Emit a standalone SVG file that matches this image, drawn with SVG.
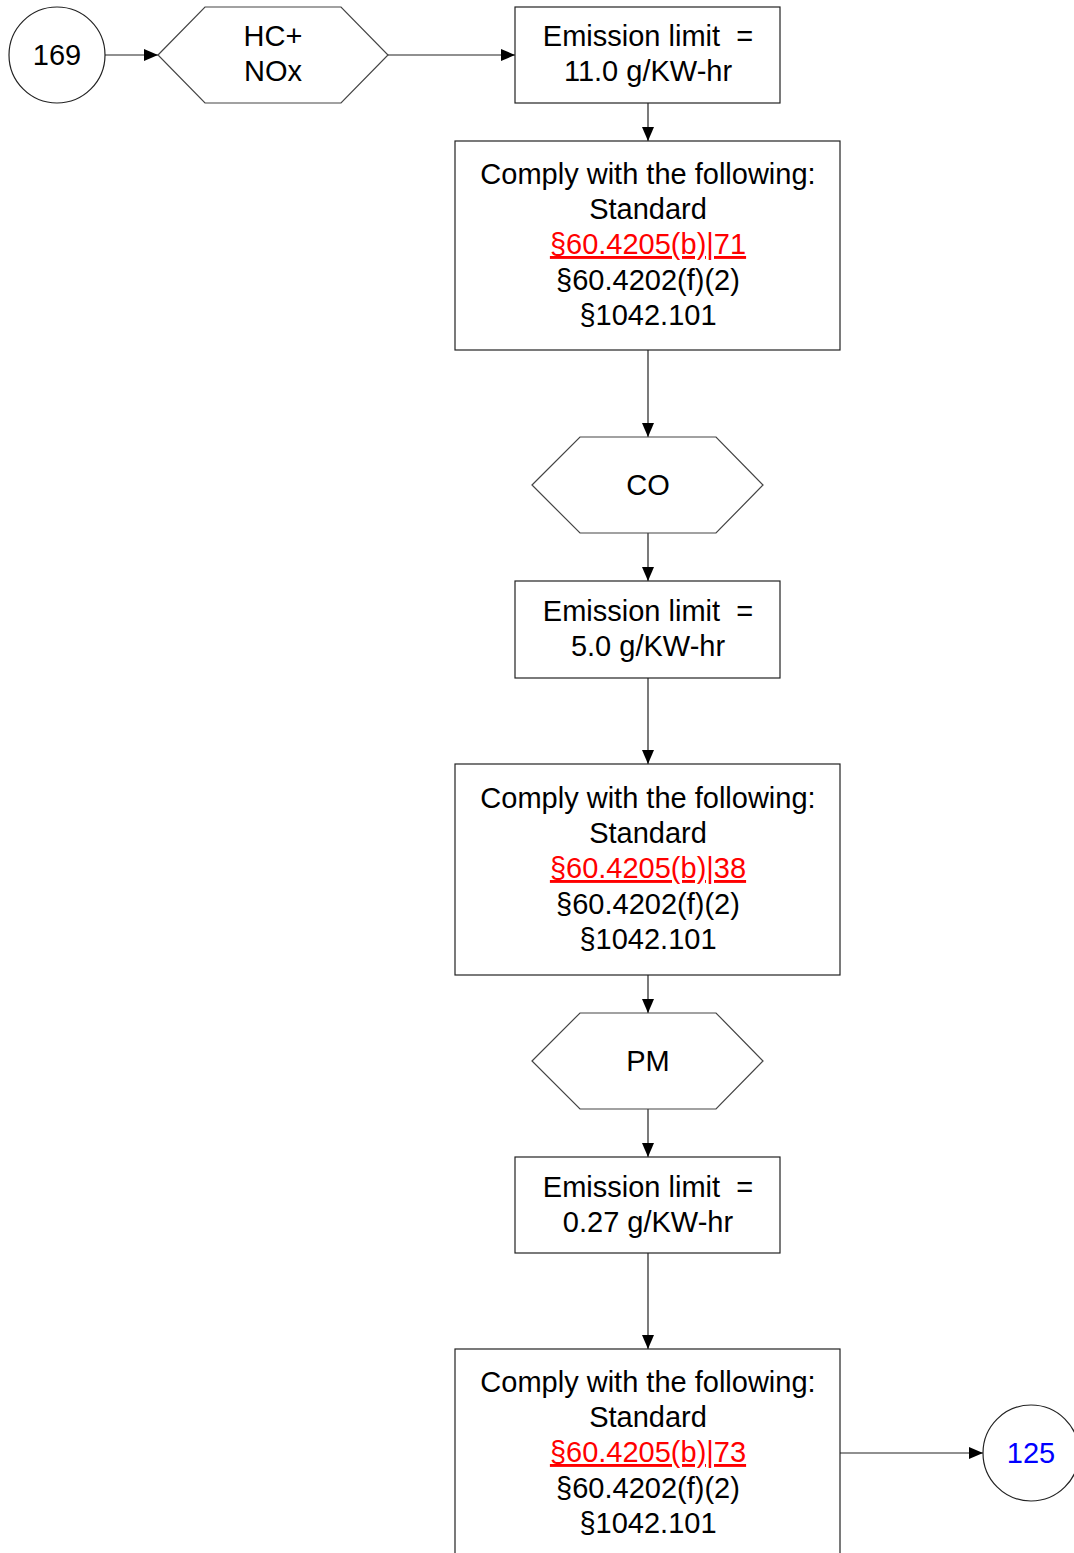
<svg xmlns="http://www.w3.org/2000/svg" width="1074" height="1553" viewBox="0 0 1074 1553">
<style>
.shape{fill:#fff;stroke:#222;stroke-width:1.2}
.hex{fill:#fff;stroke:#444;stroke-width:1.2}
.t{font-family:"Liberation Sans",Arial,sans-serif;font-size:29px;fill:#000;text-anchor:middle;white-space:pre}
.lnk{fill:#f00;text-decoration:underline}
.blue{fill:#00f}
.c{stroke:#222;stroke-width:1.2;fill:none;marker-end:url(#ah)}
</style>
<defs>
<marker id="ah" viewBox="0 0 14 12" refX="14" refY="6" markerWidth="14" markerHeight="12" markerUnits="userSpaceOnUse" orient="auto">
<path d="M0,0 L14,6 L0,12 z" fill="#000"/>
</marker>
</defs>
<rect width="1074" height="1553" fill="#fff"/>
<g id="connectors">
<line class="c" x1="105" y1="55" x2="158" y2="55"/>
<line class="c" x1="388" y1="55" x2="515" y2="55"/>
<line class="c" x1="648" y1="103" x2="648" y2="141"/>
<line class="c" x1="648" y1="350" x2="648" y2="437"/>
<line class="c" x1="648" y1="533" x2="648" y2="581"/>
<line class="c" x1="648" y1="678" x2="648" y2="764"/>
<line class="c" x1="648" y1="975" x2="648" y2="1013"/>
<line class="c" x1="648" y1="1109" x2="648" y2="1157"/>
<line class="c" x1="648" y1="1253" x2="648" y2="1349"/>
<line class="c" x1="840" y1="1453" x2="983" y2="1453"/>
</g>
<g id="n169">
<circle class="shape" cx="57" cy="55" r="48"/>
<text class="t" x="57" y="65">169</text>
</g>
<g id="hcnox">
<polygon class="hex" points="158,55 205,7 341,7 388,55 341,103 205,103"/>
<text class="t" x="273" y="46">HC+</text>
<text class="t" x="273" y="81">NOx</text>
</g>
<g id="lim1">
<rect class="shape" x="515" y="7" width="265" height="96"/>
<text class="t" x="648" y="46" xml:space="preserve">Emission limit  =</text>
<text class="t" x="648" y="81">11.0 g/KW-hr</text>
</g>
<g id="comply1">
<rect class="shape" x="455" y="141" width="385" height="209"/>
<text class="t" x="648" y="184">Comply with the following:</text>
<text class="t" x="648" y="219">Standard</text>
<text class="t lnk" x="648" y="254">§60.4205(b)|71</text>
<text class="t" x="648" y="290">§60.4202(f)(2)</text>
<text class="t" x="648" y="325">§1042.101</text>
</g>
<g id="co">
<polygon class="hex" points="532,485 580,437 716,437 763,485 716,533 580,533"/>
<text class="t" x="648" y="495">CO</text>
</g>
<g id="lim2">
<rect class="shape" x="515" y="581" width="265" height="97"/>
<text class="t" x="648" y="621" xml:space="preserve">Emission limit  =</text>
<text class="t" x="648" y="656">5.0 g/KW-hr</text>
</g>
<g id="comply2">
<rect class="shape" x="455" y="764" width="385" height="211"/>
<text class="t" x="648" y="808">Comply with the following:</text>
<text class="t" x="648" y="843">Standard</text>
<text class="t lnk" x="648" y="878">§60.4205(b)|38</text>
<text class="t" x="648" y="914">§60.4202(f)(2)</text>
<text class="t" x="648" y="949">§1042.101</text>
</g>
<g id="pm">
<polygon class="hex" points="532,1061 580,1013 716,1013 763,1061 716,1109 580,1109"/>
<text class="t" x="648" y="1071">PM</text>
</g>
<g id="lim3">
<rect class="shape" x="515" y="1157" width="265" height="96"/>
<text class="t" x="648" y="1197" xml:space="preserve">Emission limit  =</text>
<text class="t" x="648" y="1232">0.27 g/KW-hr</text>
</g>
<g id="comply3">
<rect class="shape" x="455" y="1349" width="385" height="211"/>
<text class="t" x="648" y="1392">Comply with the following:</text>
<text class="t" x="648" y="1427">Standard</text>
<text class="t lnk" x="648" y="1462">§60.4205(b)|73</text>
<text class="t" x="648" y="1498">§60.4202(f)(2)</text>
<text class="t" x="648" y="1533">§1042.101</text>
</g>
<g id="n125">
<circle class="shape" cx="1031" cy="1453" r="48"/>
<text class="t blue" x="1031" y="1463">125</text>
</g>
</svg>
